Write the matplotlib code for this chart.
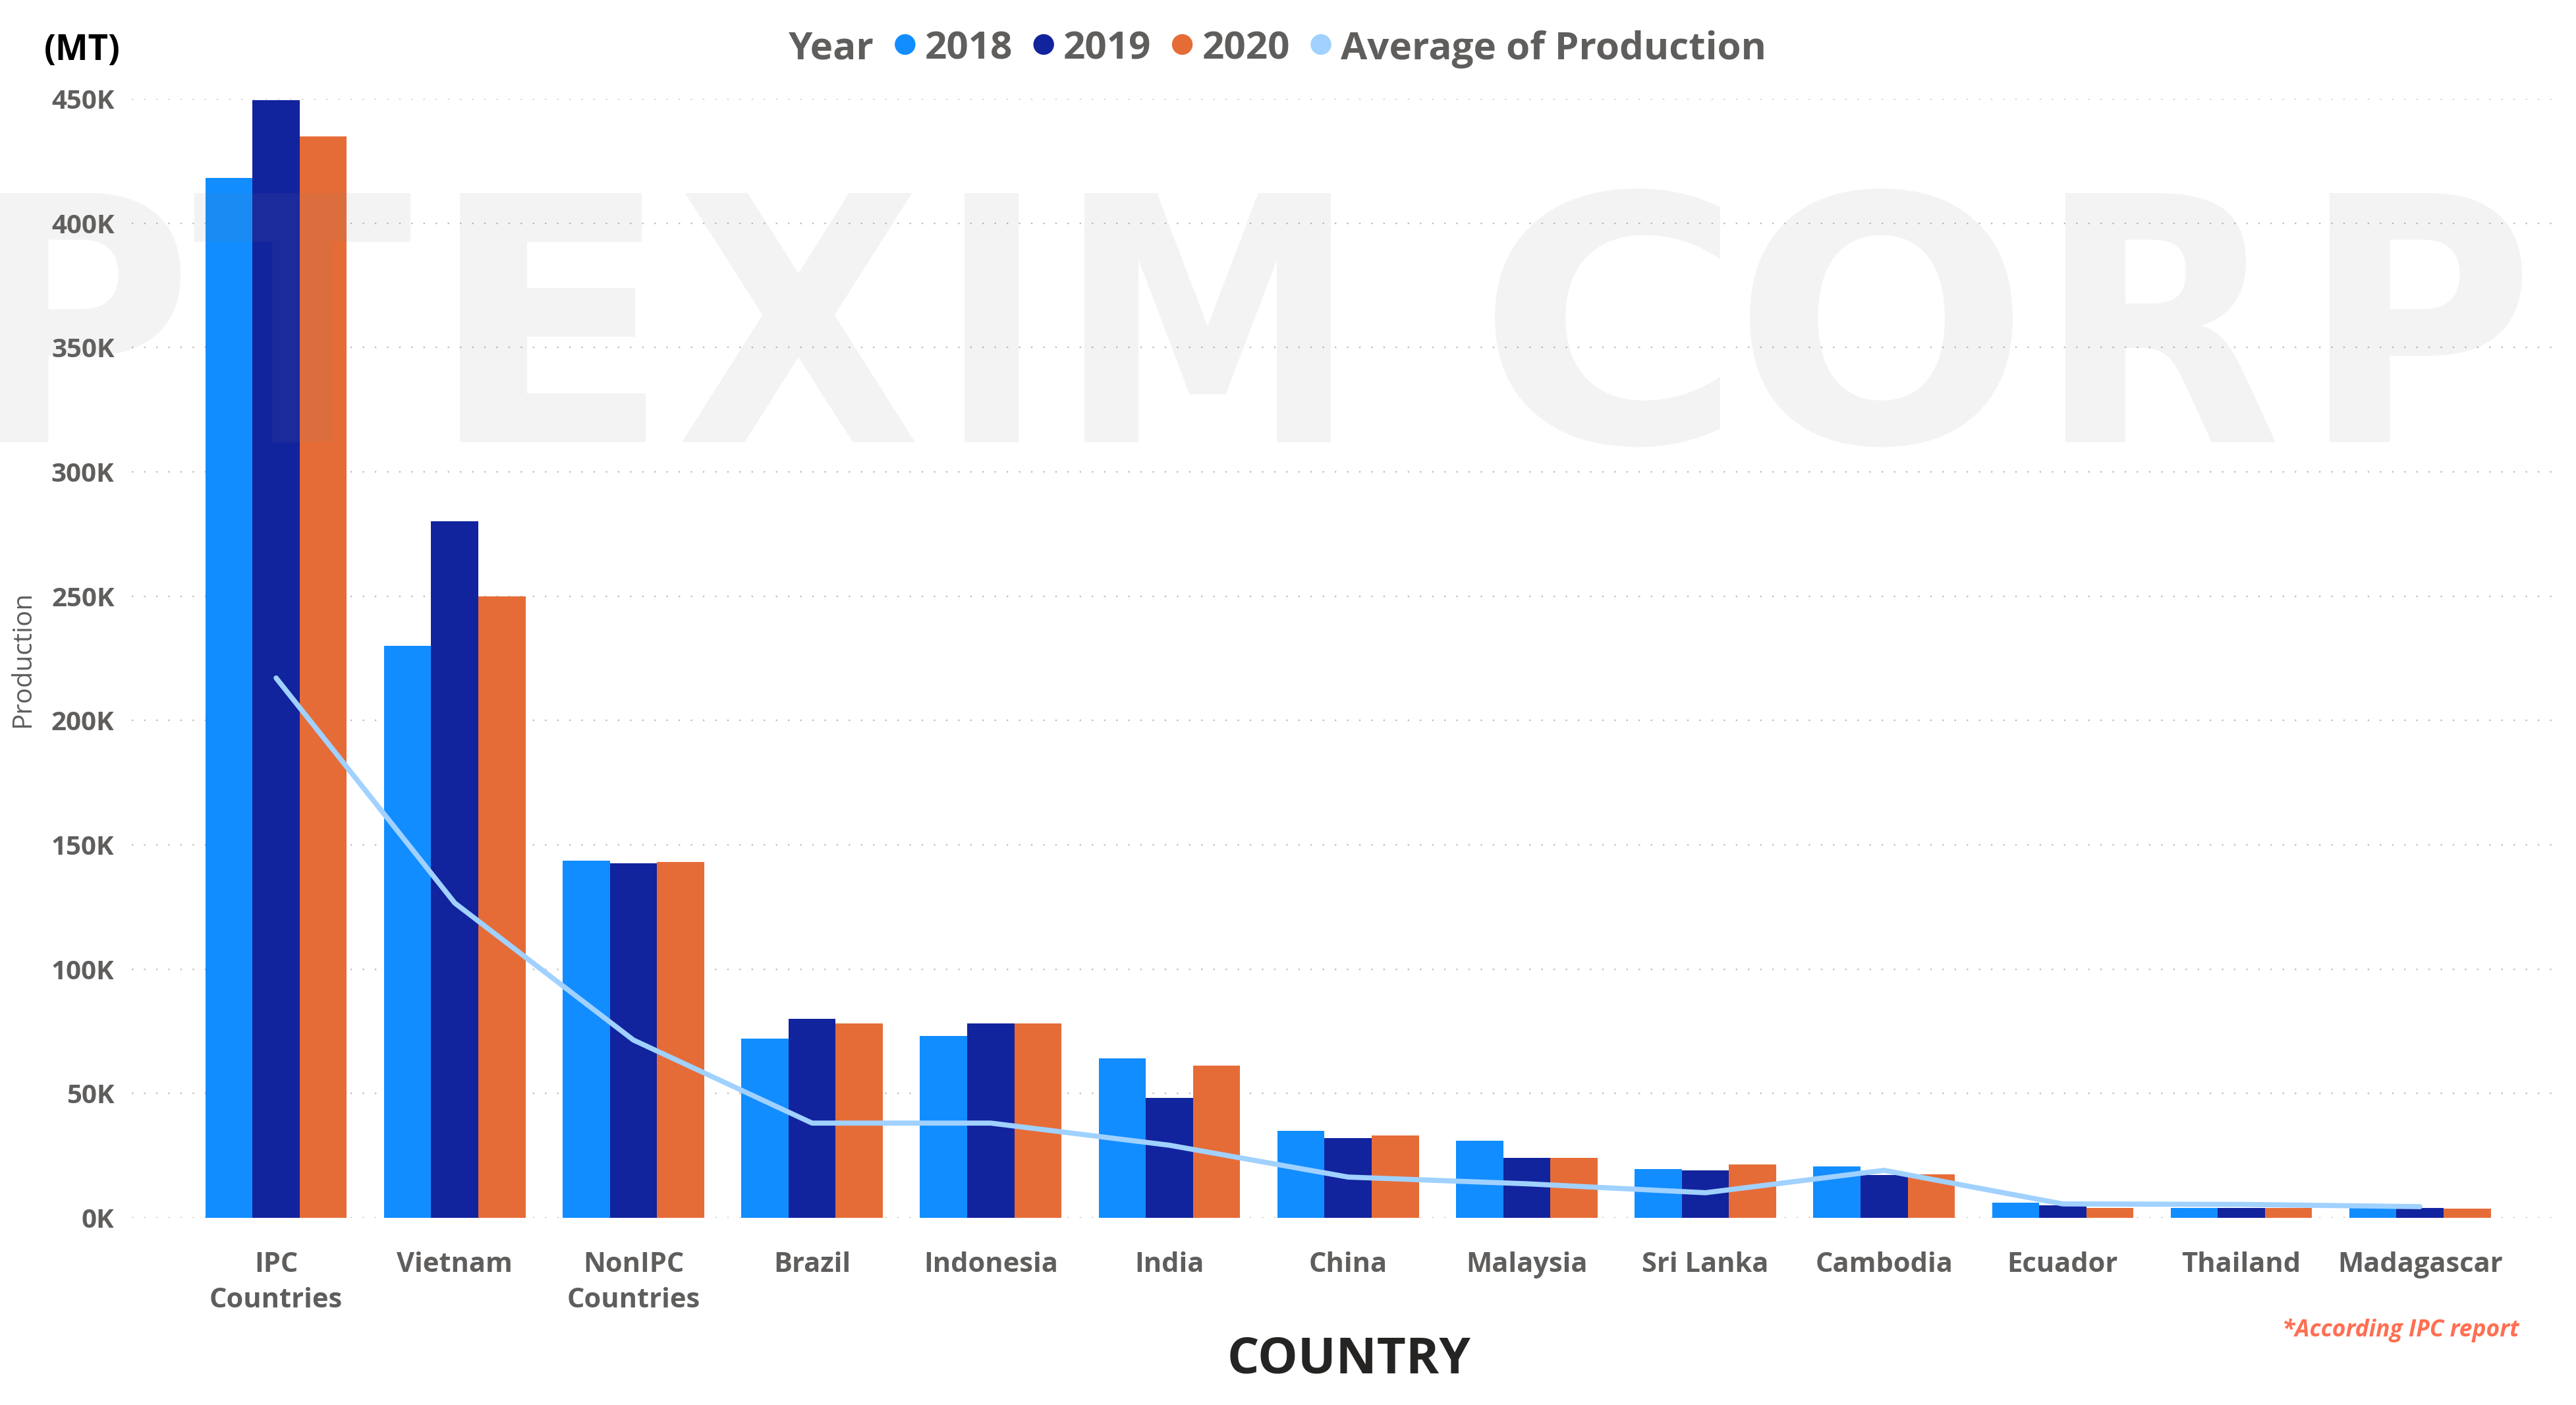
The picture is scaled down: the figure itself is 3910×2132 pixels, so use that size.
import matplotlib
matplotlib.use("Agg")
import matplotlib.pyplot as plt
import numpy as np
from matplotlib.textpath import TextPath
from matplotlib.patches import PathPatch, Circle
from matplotlib.font_manager import FontProperties
from matplotlib.transforms import Affine2D, IdentityTransform
from matplotlib.ticker import FuncFormatter

# ---- data (production, thousand MT) ----
countries = ["IPC\nCountries", "Vietnam", "NonIPC\nCountries", "Brazil", "Indonesia",
             "India", "China", "Malaysia", "Sri Lanka", "Cambodia", "Ecuador",
             "Thailand", "Madagascar"]
years = ["2018", "2019", "2020"]
prod_2018 = [418.3, 230.0, 143.7, 72.0, 73.2, 64.1, 35.0, 31.1, 19.6, 20.7, 6.1, 4.0, 4.0]
prod_2019 = [449.4, 280.0, 142.6, 80.0, 78.2, 48.2, 32.0, 24.0, 19.0, 17.2, 5.0, 4.0, 4.0]
prod_2020 = [434.8, 250.0, 143.0, 78.2, 78.2, 61.2, 33.1, 24.0, 21.5, 17.5, 4.0, 4.0, 3.8]
avg_production = [217.1, 126.6, 71.5, 38.1, 38.1, 29.2, 16.4, 13.7, 10.1, 19.1, 5.6, 5.4, 4.5]
y_ticks = [0, 50, 100, 150, 200, 250, 300, 350, 400, 450]

year_colors = ["#118DFF", "#12239E", "#E66C37"]
avg_color = "#A0D1FF"
text_gray = "#605E5C"
FONT = ["Open Sans", "DejaVu Sans"]

plt.rcParams["font.family"] = FONT

W, H = 3910, 2132
fig = plt.figure(figsize=(W / 100, H / 100), dpi=100)
fig.patch.set_facecolor("white")

# axes placed in pixel units
ax_left, ax_right, ax_top, ax_bottom = 200, 3878, 150, 1848
ax = fig.add_axes([ax_left / W, 1 - ax_bottom / H, (ax_right - ax_left) / W, (ax_bottom - ax_top) / H])
ax.set_facecolor("none")

x = np.arange(len(countries))
bw = 0.264
series = [prod_2018, prod_2019, prod_2020]
for i, (vals, col) in enumerate(zip(series, year_colors)):
    ax.bar(x + (i - 1) * bw, np.array(vals) * 1000, width=bw, color=col,
           linewidth=0, zorder=2)

ax.plot(x, np.array(avg_production) * 1000, color=avg_color, lw=5.6,
        solid_joinstyle="round", solid_capstyle="round", zorder=3)

ax.set_xlim(-0.808, 12.755)
ax.set_ylim(0, 450000)
ax.set_yticks(np.array(y_ticks) * 1000)
ax.yaxis.set_major_formatter(FuncFormatter(lambda v, p: f"{int(round(v / 1000))}K"))
ax.set_xticks(x)
ax.set_xticklabels(countries, linespacing=1.4)
for s in ax.spines.values():
    s.set_visible(False)
ax.grid(axis="y", color="#BDBDBD", linestyle=(0, (1, 7)), linewidth=1.66, zorder=0)
ax.set_axisbelow(True)
ax.tick_params(axis="y", length=0, pad=19, labelsize=29, labelcolor=text_gray)
ax.tick_params(axis="x", length=0, pad=37, labelsize=30, labelcolor=text_gray)
for lab in ax.get_yticklabels():
    lab.set_fontweight("bold")
for lab in ax.get_xticklabels():
    lab.set_fontweight("bold")
    lab.set_multialignment("center")

# axis titles and notes (pixel positions, y measured from top)
fig.text(67 / W, 1 - 91 / H, "(MT)", fontsize=38, fontweight="bold", color="black",
         ha="left", va="baseline")
fig.text(35 / W, 1 - 1000 / H, "Production", fontsize=29, color=text_gray,
         rotation=90, ha="center", va="center")
fig.text(2048 / W, 1 - 2084 / H, "COUNTRY", fontsize=55, fontweight="bold",
         color="#252423", ha="center", va="baseline")
fig.text(3824 / W, 1 - 2028 / H, "*According IPC report", fontsize=25.5,
         fontweight="bold", fontstyle="italic", color="#FF6F52",
         ha="right", va="baseline")

# legend row
renderer = fig.canvas.get_renderer()
leg_base = H - 90
dot_y = H - 67.5
r = 15
entries = [("Year", None)] + list(zip(years, year_colors)) + [("Average of Production", avg_color)]
texts = []
for label, col in entries:
    t = fig.text(0, leg_base / H, label, fontsize=42, fontweight="bold",
                 color=text_gray, ha="left", va="baseline")
    texts.append(t)
widths = [t.get_window_extent(renderer).width for t in texts]
gap_before_dot, gap_after_dot = 32, 15
total = widths[0] + sum(gap_before_dot + 2 * r + gap_after_dot + w for w in widths[1:])
cur = 1939 - total / 2
for (label, col), t, w in zip(entries, texts, widths):
    if col is not None:
        cur += gap_before_dot
        fig.add_artist(Circle((cur + r, dot_y), r, color=col, transform=IdentityTransform()))
        cur += 2 * r + gap_after_dot
    t.set_x(cur / W)
    cur += w

# watermark, one glyph per box
wm_font = FontProperties(family="DejaVu Sans", weight="bold")
wm_letters = [("P", -18, 274), ("T", 295, 623), ("E", 698, 980), ("X", 1035, 1389),
              ("I", 1464, 1546), ("M", 1646, 2020), ("C", 2269, 2611), ("O", 2656, 3055),
              ("R", 3135, 3454), ("P", 3536, 3828)]
cap_top, base = 293, 671
ref = TextPath((0, 0), "E", size=100, prop=wm_font).get_extents()
sy = (base - cap_top) / ref.y1
for ch, x0, x1 in wm_letters:
    p = TextPath((0, 0), ch, size=100, prop=wm_font)
    e = p.get_extents()
    sx = (x1 - x0) / e.width
    tr = Affine2D().translate(-e.x0, 0).scale(sx, sy).translate(x0, H - base)
    fig.add_artist(PathPatch(tr.transform_path(p), facecolor="#7D7D7D", edgecolor="none",
                             alpha=0.09, transform=IdentityTransform(), zorder=5))

fig.savefig("out.png", dpi=100, facecolor="white")
